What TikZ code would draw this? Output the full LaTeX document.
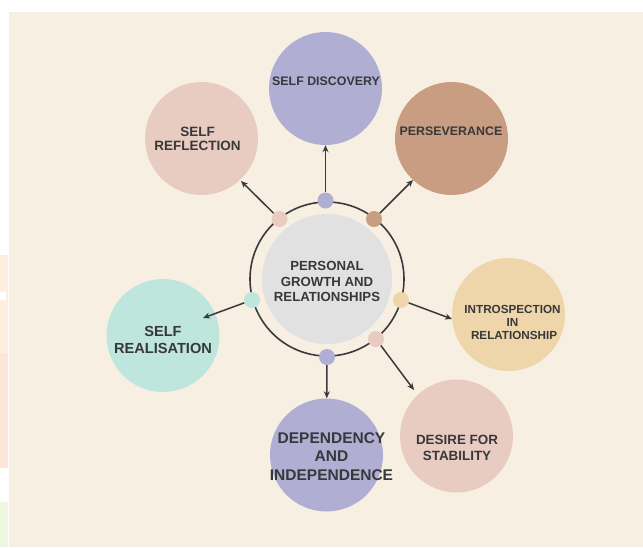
\documentclass[tikz,border=0pt]{standalone}
\usepackage{fontspec}
\setmainfont{Liberation Sans}
\usetikzlibrary{arrows.meta}
\definecolor{cream}{HTML}{F7EFE1}
\definecolor{purpleC}{HTML}{B1AED4}
\definecolor{pinkC}{HTML}{E8CCC1}
\definecolor{brownC}{HTML}{C99D81}
\definecolor{peachC}{HTML}{EFD6AA}
\definecolor{tealC}{HTML}{BEE6DD}
\definecolor{greyC}{HTML}{E1E1E1}
\definecolor{txtC}{HTML}{38383A}
\definecolor{lineC}{HTML}{3A3A3A}
\definecolor{stripA}{HTML}{FDEEDF}
\definecolor{stripB}{HTML}{FDE5D9}
\definecolor{stripC}{HTML}{EEF8E1}
\tikzset{
  bubble/.style={circle, minimum size=113pt, inner sep=0pt, draw=none},
  dotnode/.style={circle, minimum size=16pt, inner sep=0pt, draw=none},
  lbl/.style={text=txtC, align=center, inner sep=0pt, font=\bfseries},
  arr/.style={draw=lineC, line width=1.5pt, -{Stealth[length=7pt,width=6pt]}},
  ring/.style={draw=lineC, line width=1.6pt}
}
\begin{document}
\begin{tikzpicture}[x=1pt,y=-1pt]
\useasboundingbox (0,0) rectangle (643,547);
\fill[white] (0,0) rectangle (643,547);
\fill[cream] (9,12) rectangle (643,547);
% left margin fragments
\fill[stripA] (0,255) rectangle (8.3,353);
\fill[white] (0,292) rectangle (6,300);
\fill[stripB] (0,353) rectangle (8.3,468);
\fill[stripC] (0,502) rectangle (8.3,547);

% outer ring and centre
\node[circle, ring, minimum size=154pt, inner sep=0pt] (ringc) at (327,279) {};
\node[circle, fill=greyC, minimum size=130pt, inner sep=0pt] (centre) at (327,279) {};
\node[lbl, font=\bfseries\fontsize{13.2}{15.5}\selectfont] (centret) at (327,281.5) {PERSONAL\\GROWTH AND\\RELATIONSHIPS};

% outer bubbles
\node[bubble, fill=purpleC] (sd) at (325.5,88.5) {};
\node[bubble, fill=pinkC] (sr) at (201.5,138.5) {};
\node[bubble, fill=brownC] (pv) at (451.5,138.5) {};
\node[bubble, fill=peachC] (ir) at (508.5,314.5) {};
\node[bubble, fill=pinkC] (ds) at (456.5,436) {};
\node[bubble, fill=purpleC] (dep) at (326.5,455) {};
\node[bubble, fill=tealC] (rl) at (163,335.5) {};

% labels
\node[lbl, font=\bfseries\fontsize{12.4}{15}\selectfont] (sdt) at (326,81) {SELF DISCOVERY};
\node[lbl, font=\bfseries\fontsize{13.5}{14.5}\selectfont] (srt) at (197.5,139) {SELF\\REFLECTION};
\node[lbl, font=\bfseries\fontsize{12.4}{15}\selectfont] (pvt) at (451,131) {PERSEVERANCE};
\node[lbl, font=\bfseries\fontsize{11.7}{13}\selectfont] (irt) at (512.5,322) {INTROSPECTION\\IN\\\ RELATIONSHIP};
\node[lbl, font=\bfseries\fontsize{13.4}{16}\selectfont] (dst) at (457,448) {DESIRE FOR\\STABILITY};
\node[lbl, font=\bfseries\fontsize{15.5}{18.5}\selectfont] (dept) at (331.5,456.5) {DEPENDENCY\\AND\\INDEPENDENCE};
\node[lbl, font=\bfseries\fontsize{14.6}{17}\selectfont] (rlt) at (163,339.5) {SELF\\REALISATION};

% dots on the ring
\node[dotnode, fill=purpleC] (dT) at (325.5,200.5) {};
\node[dotnode, fill=pinkC] (dUL) at (279.5,219) {};
\node[dotnode, fill=brownC] (dUR) at (374,219) {};
\node[dotnode, fill=tealC] (dL) at (252,300) {};
\node[dotnode, fill=peachC] (dR) at (401,300) {};
\node[dotnode, fill=pinkC] (dLR) at (376,339) {};
\node[dotnode, fill=purpleC] (dB) at (327,357) {};

% arrow tips
\coordinate (srTip) at (241,181);
\coordinate (pvTip) at (413,180);
\coordinate (irTip) at (452,319);
\coordinate (dsTip) at (414,390);
\coordinate (rlTip) at (203,318);

% connectors
\draw[arr] (dT) -- (sd);
\draw[arr] (dUL) -- (srTip);
\draw[arr] (dUR) -- (pvTip);
\draw[arr] (dR) -- (irTip);
\draw[arr] (dLR) -- (dsTip);
\draw[arr] (dB) -- (dep);
\draw[arr] (dL) -- (rlTip);
\end{tikzpicture}
\end{document}
